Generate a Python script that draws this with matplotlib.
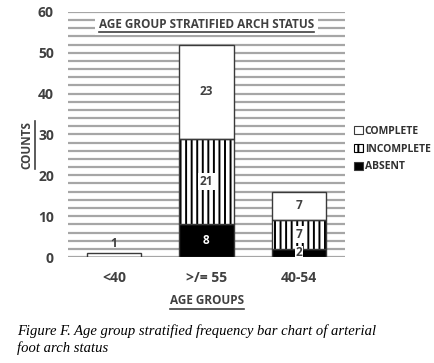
import numpy as np
import matplotlib.pyplot as plt
from matplotlib.patches import Patch
from matplotlib.lines import Line2D

groups = ['<40', '>/= 55', '40-54']
absent = [0, 8, 2]
incomplete = [0, 21, 7]
complete = [1, 23, 7]

plt.rcParams['font.family'] = ['Open Sans', 'DejaVu Sans']
plt.rcParams['hatch.linewidth'] = 1.4

fig = plt.figure(figsize=(4.35, 3.63), dpi=100)
ax = fig.add_axes([0.156, 0.292, 0.637, 0.675])

x = np.arange(len(groups))
w = 0.59
edge = '#3a3a3a'

# horizontal grid every 2 units
for yv in range(0, 61, 2):
    ax.axhline(yv, color='#a6a6a6', lw=1.6, zorder=0)

absent_a = np.array(absent)
inc_a = np.array(incomplete)
comp_a = np.array(complete)

ax.bar(x, absent_a, w, color='black', edgecolor=edge, lw=1, zorder=2)
ax.bar(x, inc_a, w, bottom=absent_a, color='white', edgecolor='black',
       hatch='|||', lw=0, zorder=2)
ax.bar(x, inc_a, w, bottom=absent_a, fill=False, edgecolor=edge, lw=1, zorder=3)
ax.bar(x, comp_a, w, bottom=absent_a + inc_a, color='white',
       edgecolor=edge, lw=1, zorder=2)

lab = dict(ha='center', va='center', fontsize=8.5, fontweight='bold',
           color='#404040', zorder=5)
for i in range(len(groups)):
    if absent[i]:
        if absent[i] > 4:
            ax.text(x[i], absent[i] / 2, str(absent[i]), **{**lab, 'color': 'white'})
        else:
            ax.text(x[i], absent[i] / 2, str(absent[i]),
                    bbox=dict(fc='white', ec='none', pad=0.5), **lab)
    if incomplete[i]:
        ax.text(x[i], absent[i] + incomplete[i] / 2, str(incomplete[i]),
                bbox=dict(fc='white', ec='none', pad=1.5), **lab)
    if complete[i]:
        if complete[i] < 3:
            ax.text(x[i], absent[i] + incomplete[i] + complete[i] + 2.4,
                    str(complete[i]), **lab)
        else:
            ax.text(x[i], absent[i] + incomplete[i] + complete[i] / 2,
                    str(complete[i]), **lab)

ax.set_xlim(-0.5, 2.5)
ax.set_ylim(0, 60)
ax.set_yticks(range(0, 61, 10))
ax.set_xticks(x)
ax.set_xticklabels(groups)
ax.tick_params(length=0, labelsize=10, labelcolor='#404040', pad=10)
ax.tick_params(axis='y', pad=10)
for t in ax.get_xticklabels() + ax.get_yticklabels():
    t.set_fontweight('bold')
for s in ax.spines.values():
    s.set_visible(False)

title = ax.text(1, 57, 'AGE GROUP STRATIFIED ARCH STATUS', ha='center',
                va='center', fontsize=8.5, fontweight='bold', color='#404040',
                bbox=dict(fc='white', ec='none', pad=3), zorder=6)
xl = fig.text(0.476, 0.172, 'AGE GROUPS', ha='center', va='center',
              fontsize=8.5, fontweight='bold', color='#404040')
yl = fig.text(0.062, 0.6, 'COUNTS', ha='center', va='center', rotation=90,
              fontsize=8.5, fontweight='bold', color='#404040')

handles = [Patch(fc='white', ec=edge, lw=0.8),
           Patch(fc='white', ec='black', hatch='|||', lw=0.8),
           Patch(fc='black', ec=edge, lw=0.8)]
fig.legend(handles, ['COMPLETE', 'INCOMPLETE', 'ABSENT'],
           loc='upper left', bbox_to_anchor=(0.805, 0.665), frameon=False,
           prop=dict(size=7.5, weight='bold'), labelcolor='#303030',
           handlelength=0.8, handleheight=0.8, handletextpad=0.2,
           labelspacing=0.65, borderaxespad=0)

fig.text(0.04, 0.088, 'Figure F. Age group stratified frequency bar chart of arterial',
         fontsize=10.5, style='italic', family='Liberation Serif', va='center')
fig.text(0.04, 0.04, 'foot arch status',
         fontsize=10.5, style='italic', family='Liberation Serif', va='center')

# underline title and axis labels
fig.canvas.draw()
r = fig.canvas.get_renderer()
for t in (title, xl, yl):
    bb = t.get_window_extent(r).transformed(fig.transFigure.inverted())
    if t is yl:
        fig.add_artist(Line2D([bb.x1 + 0.004] * 2, [bb.y0, bb.y1],
                              color='#404040', lw=1.2))
    else:
        fig.add_artist(Line2D([bb.x0, bb.x1], [bb.y0 - 0.004] * 2,
                              color='#404040', lw=1.2))

fig.savefig('out.png', dpi=100)
